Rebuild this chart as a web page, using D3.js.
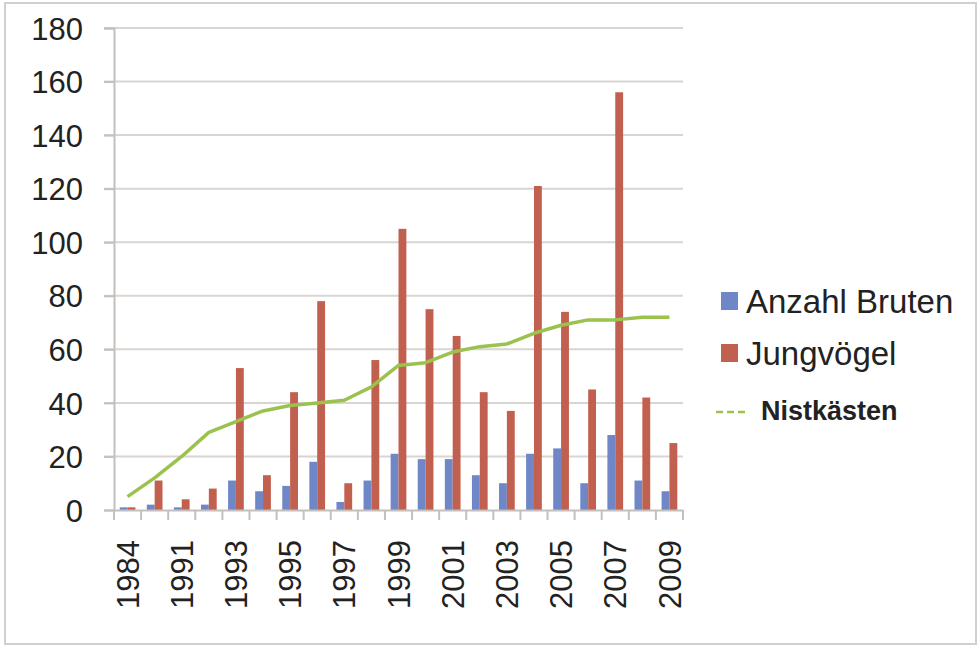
<!DOCTYPE html>
<html>
<head>
<meta charset="utf-8">
<script src="https://cdn.jsdelivr.net/npm/d3@7"></script>
<style>
  html, body { margin: 0; padding: 0; background: #ffffff; }
  svg { display: block; }
  text { font-family: "Liberation Sans", Arial, sans-serif; fill: #222; }
</style>
</head>
<body>
<svg id="chart" width="980" height="646"></svg>
<script>
const categories = ["1984","1990","1991","1992","1993","1994","1995","1996","1997","1998","1999","2000","2001","2002","2003","2004","2005","2006","2007","2008","2009"];
const tickLabels = ["1984","1991","1993","1995","1997","1999","2001","2003","2005","2007","2009"];
const bruten = [1,2,1,2,11,7,9,18,3,11,21,19,19,13,10,21,23,10,28,11,7];
const jungvoegel = [1,11,4,8,53,13,44,78,10,56,105,75,65,44,37,121,74,45,156,42,25];
const nistkaesten = [5,12,20,29,33,37,39,40,41,46,54,55,59,61,62,66,69,71,71,72,72];
const yTicks = [0,20,40,60,80,100,120,140,160,180];
const seriesNames = ["Anzahl Bruten","Jungvögel","Nistkästen"];

const colors = { blue: "#6f87c6", red: "#c1604e", green: "#9bc24f" };

const svg = d3.select("#chart");

// frame
svg.append("rect").attr("x",5).attr("y",3).attr("width",971).attr("height",641)
  .attr("fill","#fff").attr("stroke","#d2d0ce").attr("stroke-width",2);

const x = d3.scaleBand().domain(categories).range([114, 683]).paddingInner(0).paddingOuter(0);
const y = d3.scaleLinear().domain([0,180]).range([510, 28]);
const bw = x.bandwidth();
const barW = bw * 0.29;

// gridlines
svg.append("g").selectAll("line").data(yTicks.filter(d => d>0)).join("line")
  .attr("x1",104).attr("x2",683).attr("y1",d=>y(d)).attr("y2",d=>y(d))
  .attr("stroke","#d9d5d2").attr("stroke-width",2);

// y axis
const yAxis = d3.axisLeft(y).tickValues(yTicks).tickSize(10).tickPadding(21);
const gy = svg.append("g").attr("transform","translate(114,0)").call(yAxis);
gy.select(".domain").attr("stroke","#c4c0bd").attr("stroke-width",2);
gy.selectAll(".tick line").attr("stroke","#c4c0bd").attr("stroke-width",2);
gy.selectAll(".tick text").style("font-size","31px").attr("fill","#222").attr("dy","0.36em");

// bars
svg.append("g").selectAll("rect").data(bruten).join("rect")
  .attr("x",(d,i)=>x(categories[i]) + bw/2 - barW)
  .attr("width",barW)
  .attr("y",d=>y(d)).attr("height",d=>y(0)-y(d))
  .attr("fill",colors.blue);
svg.append("g").selectAll("rect").data(jungvoegel).join("rect")
  .attr("x",(d,i)=>x(categories[i]) + bw/2)
  .attr("width",barW)
  .attr("y",d=>y(d)).attr("height",d=>y(0)-y(d))
  .attr("fill",colors.red);

// x axis
const xAxis = d3.axisBottom(x).tickSize(0).tickFormat(d => tickLabels.includes(d) ? d : "");
const gx = svg.append("g").attr("transform","translate(0,510)").call(xAxis);
gx.select(".domain").attr("stroke","#c4c0bd").attr("stroke-width",2);
gx.selectAll(".tick text")
  .style("font-size","31px").attr("fill","#222")
  .attr("text-anchor","end")
  .attr("transform","rotate(-90)")
  .attr("x",-30).attr("y",0).attr("dy","0.36em");
// category boundary ticks
const bounds = categories.map(c => x(c)).concat([x(categories[categories.length-1]) + bw]);
svg.append("g").selectAll("line").data(bounds).join("line")
  .attr("x1",d=>d).attr("x2",d=>d).attr("y1",510).attr("y2",520)
  .attr("stroke","#c4c0bd").attr("stroke-width",2);

// line
const line = d3.line().x((d,i)=>x(categories[i]) + bw/2).y(d=>y(d));
svg.append("path").datum(nistkaesten).attr("d",line)
  .attr("fill","none").attr("stroke",colors.green).attr("stroke-width",3.5)
  .attr("stroke-linejoin","round");

// legend
const lg = svg.append("g");
lg.append("rect").attr("x",721).attr("y",292).attr("width",17).attr("height",18).attr("fill",colors.blue);
lg.append("text").attr("x",746).attr("y",313).style("font-size","33px").text(seriesNames[0]);
lg.append("rect").attr("x",721).attr("y",344).attr("width",17).attr("height",18).attr("fill",colors.red);
lg.append("text").attr("x",746).attr("y",365).style("font-size","33px").text(seriesNames[1]);
lg.append("line").attr("x1",716).attr("x2",749).attr("y1",412).attr("y2",412)
  .attr("stroke",colors.green).attr("stroke-width",2.5).attr("stroke-dasharray","7,4");
lg.append("text").attr("x",761).attr("y",420).style("font-size","27px").style("font-weight","bold").text(seriesNames[2]);
</script>
</body>
</html>
